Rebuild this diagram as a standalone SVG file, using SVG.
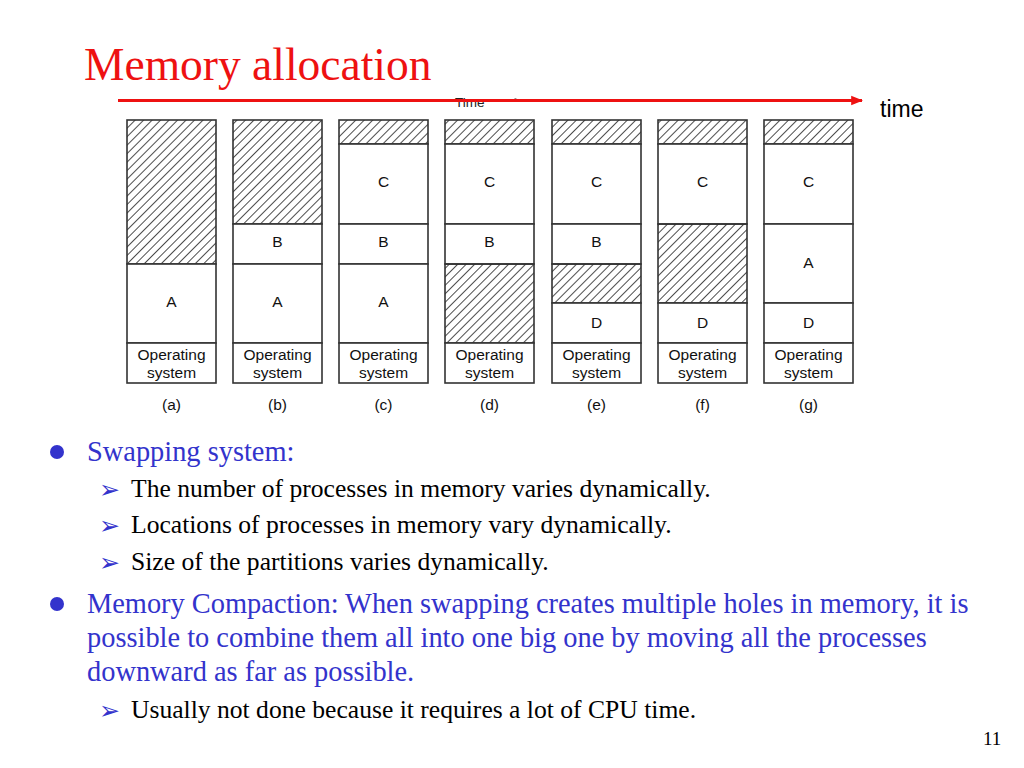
<svg xmlns="http://www.w3.org/2000/svg" width="1024" height="768" viewBox="0 0 1024 768">
<defs>
<pattern id="hatch" patternUnits="userSpaceOnUse" width="6" height="6" patternTransform="rotate(45)">
<line x1="0" y1="0" x2="0" y2="6" stroke="#111" stroke-width="1.5"/>
</pattern>
<marker id="redhead" viewBox="0 0 10 10" refX="9" refY="5" markerWidth="4" markerHeight="4" orient="auto" markerUnits="strokeWidth">
<path d="M0,1 L10,5 L0,9 Z" fill="#ee1111"/>
</marker>
<marker id="smallhead" viewBox="0 0 10 10" refX="9" refY="5" markerWidth="8" markerHeight="6" orient="auto" markerUnits="userSpaceOnUse">
<path d="M0,2 L10,5 L0,8 Z" fill="#222"/>
</marker>
</defs>
<style>
.cell{fill:#fff;stroke:#333;stroke-width:1.6}
.hole{fill:url(#hatch);stroke:#333;stroke-width:1.6}
.lbl{font-family:"Liberation Sans",Arial,sans-serif;font-size:15.5px;fill:#111;text-anchor:middle}
.os{font-family:"Liberation Sans",Arial,sans-serif;font-size:15.5px;fill:#111;text-anchor:middle}
.main{font-family:"Liberation Serif","Times New Roman",serif;font-size:28.4px;fill:#3333cc}
.sub{font-family:"Liberation Serif","Times New Roman",serif;font-size:25.6px;fill:#000}
.arr{font-family:"DejaVu Sans",sans-serif;font-size:25px;fill:#3333cc}
</style>
<rect width="1024" height="768" fill="#fff"/>
<text x="84" y="80" font-family="Liberation Serif,'Times New Roman',serif" font-size="45.5" fill="#ee1111">Memory allocation</text>

<g id="faded-time">
<text x="455" y="107" font-family="Liberation Sans,Arial,sans-serif" font-size="13.5" fill="#222">Time</text>
<line x1="490" y1="100" x2="520" y2="100" stroke="#222" stroke-width="1" marker-end="url(#smallhead)"/>
</g>

<g id="connectors">
<line x1="118" y1="100.5" x2="862" y2="100.5" stroke="#ee1111" stroke-width="3" marker-end="url(#redhead)"/>
</g>
<text x="880" y="117" font-family="Liberation Sans,Arial,sans-serif" font-size="23" fill="#000">time</text>

<g id="col-a">
<rect class="hole" x="127" y="120" width="89" height="144"/>
<rect class="cell" x="127" y="264" width="89" height="79"/>
<text class="lbl" x="171.5" y="307">A</text>
<rect class="cell" x="127" y="343" width="89" height="40"/>
<text class="os" x="171.5" y="360">Operating</text><text class="os" x="171.5" y="378">system</text>
<text class="lbl" x="171.5" y="410">(a)</text>
</g>
<g id="col-b">
<rect class="hole" x="233" y="120" width="89" height="104"/>
<rect class="cell" x="233" y="224" width="89" height="40"/>
<text class="lbl" x="277.5" y="247">B</text>
<rect class="cell" x="233" y="264" width="89" height="79"/>
<text class="lbl" x="277.5" y="307">A</text>
<rect class="cell" x="233" y="343" width="89" height="40"/>
<text class="os" x="277.5" y="360">Operating</text><text class="os" x="277.5" y="378">system</text>
<text class="lbl" x="277.5" y="410">(b)</text>
</g>
<g id="col-c">
<rect class="hole" x="339" y="120" width="89" height="24"/>
<rect class="cell" x="339" y="144" width="89" height="80"/>
<text class="lbl" x="383.5" y="187">C</text>
<rect class="cell" x="339" y="224" width="89" height="40"/>
<text class="lbl" x="383.5" y="247">B</text>
<rect class="cell" x="339" y="264" width="89" height="79"/>
<text class="lbl" x="383.5" y="307">A</text>
<rect class="cell" x="339" y="343" width="89" height="40"/>
<text class="os" x="383.5" y="360">Operating</text><text class="os" x="383.5" y="378">system</text>
<text class="lbl" x="383.5" y="410">(c)</text>
</g>
<g id="col-d">
<rect class="hole" x="445" y="120" width="89" height="24"/>
<rect class="cell" x="445" y="144" width="89" height="80"/>
<text class="lbl" x="489.5" y="187">C</text>
<rect class="cell" x="445" y="224" width="89" height="40"/>
<text class="lbl" x="489.5" y="247">B</text>
<rect class="hole" x="445" y="264" width="89" height="79"/>
<rect class="cell" x="445" y="343" width="89" height="40"/>
<text class="os" x="489.5" y="360">Operating</text><text class="os" x="489.5" y="378">system</text>
<text class="lbl" x="489.5" y="410">(d)</text>
</g>
<g id="col-e">
<rect class="hole" x="552" y="120" width="89" height="24"/>
<rect class="cell" x="552" y="144" width="89" height="80"/>
<text class="lbl" x="596.5" y="187">C</text>
<rect class="cell" x="552" y="224" width="89" height="40"/>
<text class="lbl" x="596.5" y="247">B</text>
<rect class="hole" x="552" y="264" width="89" height="39"/>
<rect class="cell" x="552" y="303" width="89" height="40"/>
<text class="lbl" x="596.5" y="328">D</text>
<rect class="cell" x="552" y="343" width="89" height="40"/>
<text class="os" x="596.5" y="360">Operating</text><text class="os" x="596.5" y="378">system</text>
<text class="lbl" x="596.5" y="410">(e)</text>
</g>
<g id="col-f">
<rect class="hole" x="658" y="120" width="89" height="24"/>
<rect class="cell" x="658" y="144" width="89" height="80"/>
<text class="lbl" x="702.5" y="187">C</text>
<rect class="hole" x="658" y="224" width="89" height="79"/>
<rect class="cell" x="658" y="303" width="89" height="40"/>
<text class="lbl" x="702.5" y="328">D</text>
<rect class="cell" x="658" y="343" width="89" height="40"/>
<text class="os" x="702.5" y="360">Operating</text><text class="os" x="702.5" y="378">system</text>
<text class="lbl" x="702.5" y="410">(f)</text>
</g>
<g id="col-g">
<rect class="hole" x="764" y="120" width="89" height="24"/>
<rect class="cell" x="764" y="144" width="89" height="80"/>
<text class="lbl" x="808.5" y="187">C</text>
<rect class="cell" x="764" y="224" width="89" height="79"/>
<text class="lbl" x="808.5" y="268">A</text>
<rect class="cell" x="764" y="303" width="89" height="40"/>
<text class="lbl" x="808.5" y="328">D</text>
<rect class="cell" x="764" y="343" width="89" height="40"/>
<text class="os" x="808.5" y="360">Operating</text><text class="os" x="808.5" y="378">system</text>
<text class="lbl" x="808.5" y="410">(g)</text>
</g>

<g id="bullets">
<circle cx="57" cy="452" r="7" fill="#3333cc"/>
<text class="main" x="87" y="461">Swapping system:</text>
<text class="arr" x="99" y="498">➢</text>
<text class="sub" x="131" y="497">The number of processes in memory varies dynamically.</text>
<text class="arr" x="99" y="534">➢</text>
<text class="sub" x="131" y="533">Locations of processes in memory vary dynamically.</text>
<text class="arr" x="99" y="571">➢</text>
<text class="sub" x="131" y="570">Size of the partitions varies dynamically.</text>
<circle cx="57" cy="604" r="7" fill="#3333cc"/>
<text class="main" x="87" y="613">Memory Compaction: When swapping creates multiple holes in memory, it is</text>
<text class="main" x="87" y="647">possible to combine them all into one big one by moving all the processes</text>
<text class="main" x="87" y="681">downward as far as possible.</text>
<text class="arr" x="99" y="719">➢</text>
<text class="sub" x="131" y="718">Usually not done because it requires a lot of CPU time.</text>
</g>
<text x="983" y="745" font-family="Liberation Serif,'Times New Roman',serif" font-size="19" fill="#000">11</text>
</svg>
